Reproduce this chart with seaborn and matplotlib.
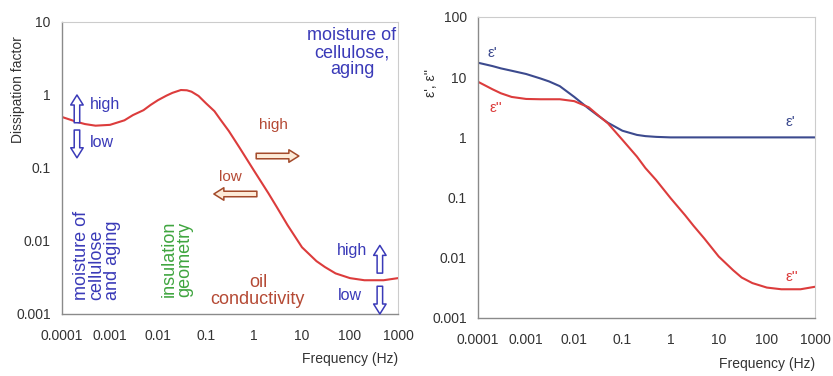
import matplotlib
matplotlib.use("Agg")
import matplotlib.pyplot as plt
import seaborn as sns
import pandas as pd

# dissipation factor curve (left panel)
freq = [1e-4, 2e-4, 3e-4, 5e-4, 1e-3, 2e-3, 3e-3, 5e-3, 7e-3, 1e-2, 1.5e-2, 2e-2, 3e-2,
        4e-2, 5e-2, 7e-2, 0.1, 0.15, 0.2, 0.3, 0.5, 1, 2, 3, 5, 10, 20, 30, 50,
        100, 200, 500, 1000]
diss = [0.50, 0.43, 0.40, 0.38, 0.39, 0.45, 0.53, 0.62, 0.73, 0.85, 0.98, 1.07, 1.17,
        1.16, 1.11, 0.97, 0.77, 0.60, 0.46, 0.32, 0.19, 0.092, 0.045, 0.029, 0.0165,
        0.0082, 0.0053, 0.0044, 0.0036, 0.0031, 0.0029, 0.0029, 0.0031]

# permittivity curves (right panel)
freq_eps = [1e-4, 2e-4, 3e-4, 5e-4, 1e-3, 2e-3, 3e-3, 5e-3, 1e-2, 2e-2, 3e-2, 5e-2,
            0.1, 0.2, 0.3, 0.5, 1, 2, 3, 5, 10, 20, 30, 50, 100, 200, 500, 1000]
eps_real = [17.4, 15.3, 14.0, 12.8, 11.3, 9.5, 8.5, 7.1, 4.7, 3.0, 2.35, 1.75,
            1.29, 1.10, 1.05, 1.02, 1.0, 1.0, 1.0, 1.0, 1.0, 1.0, 1.0, 1.0,
            1.0, 1.0, 1.0, 1.0]
eps_imag = [8.4, 6.3, 5.4, 4.7, 4.35, 4.3, 4.3, 4.3, 4.0, 3.16, 2.4, 1.71,
            0.91, 0.48, 0.31, 0.196, 0.098, 0.051, 0.034, 0.021, 0.0105, 0.0062,
            0.0047, 0.0038, 0.0032, 0.0030, 0.0030, 0.0033]

xticks = [1e-4, 1e-3, 1e-2, 1e-1, 1, 10, 100, 1000]
xlabels = ["0.0001", "0.001", "0.01", "0.1", "1", "10", "100", "1000"]
left_yticks = [0.001, 0.01, 0.1, 1, 10]
left_ylabels = ["0.001", "0.01", "0.1", "1", "10"]
right_yticks = [0.001, 0.01, 0.1, 1, 10, 100]
right_ylabels = ["0.001", "0.01", "0.1", "1", "10", "100"]

sns.set_style("white")
plt.rcParams["font.family"] = ["Liberation Sans", "DejaVu Sans"]

RED = "#dc3c3c"
BLUE = "#3c4a8e"
TXT_BLUE = "#3a3ab8"
BROWN = "#b54a35"
GREEN = "#3fa53f"

fig = plt.figure(figsize=(8.33, 3.76), dpi=100)
ax1 = fig.add_axes([0.0744, 0.1649, 0.4034, 0.7766])
ax2 = fig.add_axes([0.5738, 0.1543, 0.4046, 0.8005])


def style_axes(ax, yticks, ylabels, ylim):
    ax.set_xscale("log")
    ax.set_yscale("log")
    ax.set_xlim(1e-4, 1e3)
    ax.set_ylim(*ylim)
    ax.set_xticks(xticks)
    ax.set_xticklabels(xlabels)
    ax.set_yticks(yticks)
    ax.set_yticklabels(ylabels)
    ax.minorticks_off()
    ax.tick_params(axis="both", direction="out", length=4, width=0.8,
                   color="#888888", labelsize=10, labelcolor="#333333", pad=4)
    ax.tick_params(axis="x", pad=7)
    for side in ["left", "bottom"]:
        ax.spines[side].set_color("#8a8a8a")
        ax.spines[side].set_linewidth(1.0)
    for side in ["top", "right"]:
        ax.spines[side].set_color("#cccccc")
        ax.spines[side].set_linewidth(0.8)
    ax.set_xlabel("Frequency (Hz)", fontsize=10, color="#333333", ha="right")
    ax.xaxis.set_label_coords(1.0, -0.13)


# left panel
df1 = pd.DataFrame({"freq": freq, "diss": diss})
sns.lineplot(data=df1, x="freq", y="diss", ax=ax1, color=RED, linewidth=1.5)
style_axes(ax1, left_yticks, left_ylabels, (0.001, 10))
ax1.set_ylabel("Dissipation factor", fontsize=10, color="#333333")
ax1.yaxis.set_label_coords(-0.11, 0.77)

ax1.text(0.863, 0.895, "moisture of\ncellulose,\naging", transform=ax1.transAxes,
         ha="center", va="center", fontsize=13, color=TXT_BLUE, linespacing=1.0)

arrow_style = "simple,head_length=0.4,head_width=0.5,tail_width=0.22"
blue_arrow = dict(arrowstyle=arrow_style, mutation_scale=18,
                  fc="white", ec=TXT_BLUE, lw=1.1, shrinkA=0, shrinkB=0)
side_arrow = dict(arrowstyle=arrow_style, mutation_scale=18,
                  fc="#fdebd8", ec="#a34a2a", lw=1.1, shrinkA=0, shrinkB=0)

ax1.annotate("", xy=(0.0446, 0.75), xytext=(0.0446, 0.655), xycoords="axes fraction",
             arrowprops=blue_arrow)
ax1.annotate("", xy=(0.0446, 0.535), xytext=(0.0446, 0.63), xycoords="axes fraction",
             arrowprops=blue_arrow)
ax1.text(0.083, 0.716, "high", transform=ax1.transAxes, ha="left", va="center",
         fontsize=11.5, color=TXT_BLUE)
ax1.text(0.083, 0.586, "low", transform=ax1.transAxes, ha="left", va="center",
         fontsize=11.5, color=TXT_BLUE)

ax1.text(0.628, 0.647, "high", transform=ax1.transAxes, ha="center", va="center",
         fontsize=11, color=BROWN)
ax1.annotate("", xy=(0.705, 0.541), xytext=(0.578, 0.541), xycoords="axes fraction",
             arrowprops=side_arrow)
ax1.text(0.5, 0.469, "low", transform=ax1.transAxes, ha="center", va="center",
         fontsize=11, color=BROWN)
ax1.annotate("", xy=(0.452, 0.411), xytext=(0.58, 0.411), xycoords="axes fraction",
             arrowprops=side_arrow)

ax1.text(0.104, 0.202, "moisture of\ncellulose\nand aging", transform=ax1.transAxes,
         ha="center", va="center", rotation=90, fontsize=13, color=TXT_BLUE,
         linespacing=0.9, multialignment="left")
ax1.text(0.342, 0.19, "insulation\ngeometry", transform=ax1.transAxes,
         ha="center", va="center", rotation=90, fontsize=13, color=GREEN,
         linespacing=0.9, multialignment="left")
ax1.text(0.583, 0.08, "oil\nconductivity", transform=ax1.transAxes,
         ha="center", va="center", fontsize=13, color=BROWN, linespacing=1.0)

ax1.text(0.863, 0.219, "high", transform=ax1.transAxes, ha="center", va="center",
         fontsize=11.5, color=TXT_BLUE)
ax1.annotate("", xy=(0.946, 0.235), xytext=(0.946, 0.14), xycoords="axes fraction",
             arrowprops=blue_arrow)
ax1.text(0.857, 0.065, "low", transform=ax1.transAxes, ha="center", va="center",
         fontsize=11.5, color=TXT_BLUE)
ax1.annotate("", xy=(0.946, 0.0), xytext=(0.946, 0.095), xycoords="axes fraction",
             arrowprops=blue_arrow)

# right panel
df2 = pd.DataFrame({"freq": freq_eps + freq_eps,
                    "eps": eps_real + eps_imag,
                    "part": ["real"] * len(freq_eps) + ["imag"] * len(freq_eps)})
sns.lineplot(data=df2, x="freq", y="eps", hue="part", ax=ax2,
             palette={"real": BLUE, "imag": RED}, linewidth=1.5, legend=False)
style_axes(ax2, right_yticks, right_ylabels, (0.001, 100))
ax2.set_ylabel("ε', ε''", fontsize=10, color="#333333")
ax2.yaxis.set_label_coords(-0.12, 0.78)

ax2.text(0.042, 0.88, "ε'", transform=ax2.transAxes, ha="center", va="center",
         fontsize=11, color=BLUE)
ax2.text(0.053, 0.698, "ε''", transform=ax2.transAxes, ha="center", va="center",
         fontsize=11, color=RED)
ax2.text(0.926, 0.651, "ε'", transform=ax2.transAxes, ha="center", va="center",
         fontsize=11, color=BLUE)
ax2.text(0.932, 0.136, "ε''", transform=ax2.transAxes, ha="center", va="center",
         fontsize=11, color=RED)

fig.savefig("out.png", dpi=100)
